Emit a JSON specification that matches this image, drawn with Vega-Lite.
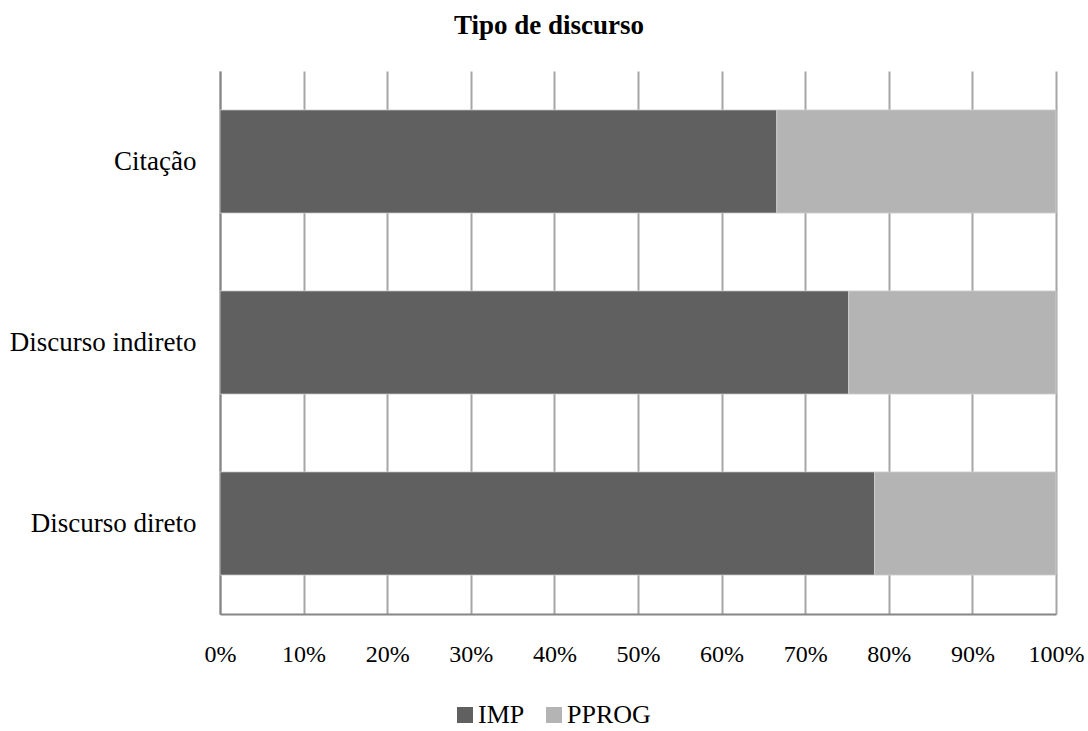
{
  "$schema": "https://vega.github.io/schema/vega-lite/v6.json",
  "width": 836,
  "height": 543,
  "autosize": {"type": "none"},
  "padding": {"left": 220, "top": 71, "right": 32, "bottom": 117},
  "background": "white",
  "title": {
    "text": "Tipo de discurso",
    "font": "Liberation Serif",
    "fontSize": 27,
    "fontWeight": "bold",
    "color": "#000000",
    "anchor": "middle",
    "dx": -89,
    "offset": 31
  },
  "data": {
    "values": [
      {"tipo": "Citação", "forma": "IMP", "pct": 66.6},
      {"tipo": "Citação", "forma": "PPROG", "pct": 33.4},
      {"tipo": "Discurso indireto", "forma": "IMP", "pct": 75.2},
      {"tipo": "Discurso indireto", "forma": "PPROG", "pct": 24.8},
      {"tipo": "Discurso direto", "forma": "IMP", "pct": 78.3},
      {"tipo": "Discurso direto", "forma": "PPROG", "pct": 21.7}
    ]
  },
  "mark": {"type": "bar", "stroke": "#d0d0d0", "strokeWidth": 0.8},
  "encoding": {
    "y": {
      "field": "tipo",
      "type": "nominal",
      "sort": ["Citação", "Discurso indireto", "Discurso direto"],
      "scale": {"paddingInner": 0.43, "paddingOuter": 0.215},
      "axis": {
        "title": null,
        "labelFont": "Liberation Serif",
        "labelFontSize": 27,
        "labelColor": "#000000",
        "labelPadding": 24,
        "labelLimit": 400,
        "ticks": false,
        "domain": true,
        "domainColor": "#868686",
        "domainWidth": 2,
        "grid": false
      }
    },
    "x": {
      "field": "pct",
      "type": "quantitative",
      "stack": "zero",
      "scale": {"domain": [0, 100], "nice": false},
      "axis": {
        "title": null,
        "values": [0, 10, 20, 30, 40, 50, 60, 70, 80, 90, 100],
        "labelExpr": "datum.value + '%'",
        "labelFont": "Liberation Serif",
        "labelFontSize": 24,
        "labelColor": "#000000",
        "labelPadding": 28,
        "labelFlush": false,
        "ticks": false,
        "domain": true,
        "domainColor": "#868686",
        "domainWidth": 2,
        "grid": true,
        "gridColor": "#a6a6a6",
        "gridWidth": 2
      }
    },
    "color": {
      "field": "forma",
      "type": "nominal",
      "scale": {"domain": ["IMP", "PPROG"], "range": ["#606060", "#b4b4b4"]},
      "legend": {
        "title": null,
        "orient": "none",
        "direction": "horizontal",
        "legendX": 232,
        "legendY": 631,
        "padding": 0,
        "symbolType": "square",
        "symbolSize": 256,
        "symbolStrokeWidth": 0,
        "labelFont": "Liberation Serif",
        "labelFontSize": 26,
        "labelColor": "#000000",
        "labelOffset": 0,
        "columnPadding": 16
      }
    },
    "order": {"field": "forma", "sort": "ascending"}
  },
  "config": {"view": {"stroke": null}}
}
